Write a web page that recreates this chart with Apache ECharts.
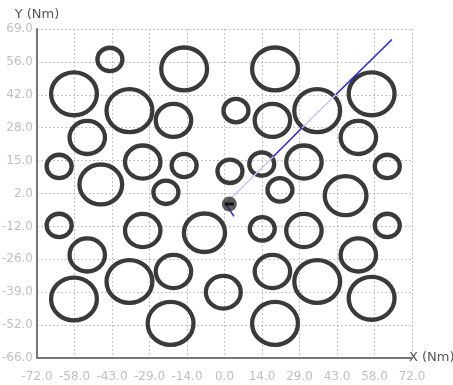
<!DOCTYPE html>
<html><head><meta charset="utf-8">
<script src="https://cdn.jsdelivr.net/npm/echarts@6/dist/echarts.min.js"></script>
<style>html,body{margin:0;padding:0;background:#fff}#c{width:453px;height:385px}</style>
</head><body><div id="c"></div>
<script>
// ---- data ----
const xTickLabels = ['-72.0','-58.0','-43.0','-29.0','-14.0','0.0','14.0','29.0','43.0','58.0','72.0'];
const yTickLabels = ['-66.0','-52.0','-39.0','-26.0','-12.0','2.0','15.0','28.0','42.0','56.0','69.0'];
const X_MIN = -72, X_MAX = 72, X_STEP = 14.4;
const Y_MIN = -66, Y_MAX = 69, Y_STEP = 13.5;

// ring obstacles: centre (x, y) and radius, all in Nm
const circleX = [-44.0,-15.5,19.4,-57.8,-36.5,-19.6,4.4,18.4,35.6,56.5,
                 -52.7,51.4,-63.5,-47.5,-31.4,-15.5,-22.5,2.1,14.3,30.5,
                 21.3,46.5,62.5,-63.5,-31.4,-7.7,14.5,30.5,62.5,-52.7,
                 51.4,-57.8,-36.5,-19.6,-0.45,18.4,35.6,56.5,-20.7,19.4];
const circleY = [56.5,52.6,52.6,42.4,35.5,31.5,35.5,31.5,35.5,42.4,
                 24.5,24.5,12.6,5.2,14.4,13.0,2.0,10.6,13.6,14.4,
                 3.0,0.6,12.6,-11.6,-13.7,-14.6,-13.0,-13.7,-11.6,-23.7,
                 -23.7,-41.8,-34.6,-30.5,-39.0,-30.5,-34.6,-41.5,-51.8,-51.8];
const circleR = [4.8,8.8,8.8,8.8,8.8,6.8,4.8,6.8,8.8,8.8,
                 6.8,6.8,4.8,8.2,6.8,4.8,4.8,4.8,4.8,6.8,
                 4.8,8.0,4.8,4.8,6.8,7.9,4.8,6.8,4.8,6.8,
                 6.8,8.8,8.8,6.8,6.7,6.8,8.8,8.8,8.8,8.8];

// heading track (tail, start, ..., end)
const trackX = [3.65, 0.4, 18.8, 29.8, 42.8, 64.3];
const trackY = [-7.9, -2.7, 16.7, 28.5, 42.1, 64.7];
// own position
const ownX = [1.85];
const ownY = [-2.8];

// ---- build ----
const sy = v => v - Y_MIN;   // y axis is offset so min is 0
const pt = i => [trackX[i], sy(trackY[i])];
const ringData = circleX.map((x, i) => [x, sy(circleY[i]), circleR[i]]);

const chart = echarts.init(document.getElementById('c'), null, {renderer: 'canvas'});
const FONT = 'DejaVu Sans';
const DARK = '#1e1eff', LIGHT = '#c4c4ff';
function seg(a, b, color) {
  return {type: 'line', data: [pt(a), pt(b)], symbol: 'none', silent: true, z: 3,
          lineStyle: {color: color, width: 1.5}, animation: false};
}
chart.setOption({
  animation: false,
  grid: {left: 37, right: 41, top: 29, bottom: 27, containLabel: false, outerBoundsMode: 'none'},
  xAxis: {
    type: 'value', min: X_MIN, max: X_MAX, interval: X_STEP,
    name: 'X (Nm)', nameLocation: 'end', nameGap: -3,
    nameTextStyle: {color: '#555', fontSize: 13, fontFamily: FONT, align: 'left', verticalAlign: 'middle'},
    axisLine: {show: true, onZero: false, lineStyle: {color: '#777', width: 2}},
    axisTick: {show: false},
    splitLine: {show: true, lineStyle: {color: '#c4c4c4', width: 1, type: [2, 2]}},
    axisLabel: {color: '#c0c0c0', fontSize: 12, fontFamily: FONT, margin: 13,
      formatter: v => xTickLabels[Math.round((v - X_MIN) / X_STEP)] || ''}
  },
  yAxis: {
    type: 'value', min: 0, max: Y_MAX - Y_MIN, interval: Y_STEP,
    name: 'Y (Nm)', nameLocation: 'end', nameGap: 8,
    nameTextStyle: {color: '#555', fontSize: 13, fontFamily: FONT, align: 'center'},
    axisLine: {show: true, onZero: false, lineStyle: {color: '#777', width: 2}},
    axisTick: {show: false},
    splitLine: {show: true, lineStyle: {color: '#c4c4c4', width: 1, type: [2, 2]}},
    axisLabel: {color: '#c0c0c0', fontSize: 12, fontFamily: FONT, margin: 4,
      formatter: v => yTickLabels[Math.round(v / Y_STEP)] || ''}
  },
  series: [
    {
      type: 'custom', data: ringData, encode: {x: 0, y: 1}, silent: true, z: 2,
      renderItem: function (params, api) {
        const c = api.coord([api.value(0), api.value(1)]);
        const s = api.size([api.value(2), api.value(2)]);
        return {type: 'ellipse', shape: {cx: c[0], cy: c[1], rx: s[0], ry: s[1]},
                style: {fill: 'none', stroke: '#3a3a3a', lineWidth: 4.3}};
      }
    },
    seg(0, 1, DARK),
    seg(1, 2, LIGHT),
    seg(2, 3, DARK),
    seg(3, 4, LIGHT),
    seg(4, 5, DARK),
    {type: 'scatter', data: ownX.map((x, i) => [x, sy(ownY[i])]), symbol: 'circle', symbolSize: 15,
     itemStyle: {color: '#333'}, z: 5, silent: true},
    {type: 'scatter', data: ownX.map((x, i) => [x, sy(ownY[i])]), symbol: 'rect', symbolSize: [9, 3],
     itemStyle: {color: '#000'}, z: 6, silent: true}
  ]
});
</script>
</body></html>
